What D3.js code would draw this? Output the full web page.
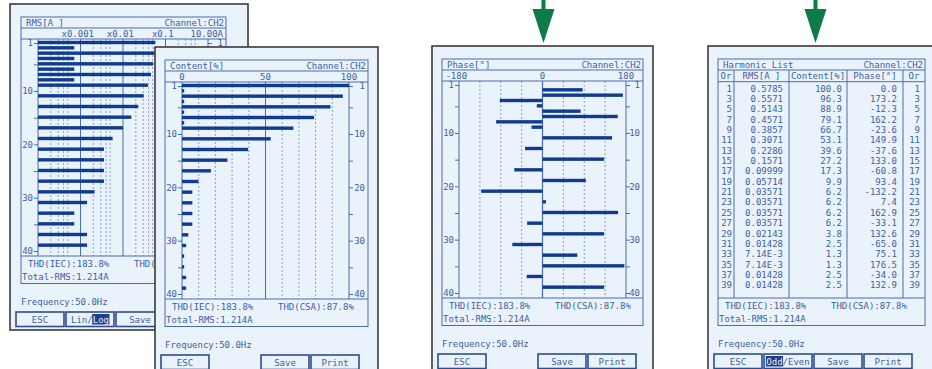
<!DOCTYPE html>
<html>
<head>
<meta charset="utf-8">
<script src="https://cdn.jsdelivr.net/npm/d3@7"></script>
<style>
  html, body { margin: 0; padding: 0; background: #ffffff; }
  svg { display: block; }
  text { font-family: "DejaVu Sans Mono", monospace; font-size: 9px; fill: #3d5ea3; }
</style>
</head>
<body>
<svg id="chart" width="932" height="369"></svg>
<script>
// ---- harmonic data, channel 2 ----
const oddOrders   = d3.range(1, 40, 2);
const rmsOdd      = [0.5785, 0.5571, 0.5143, 0.4571, 0.3857, 0.3071, 0.2286, 0.1571, 0.09999, 0.05714,
                     0.03571, 0.03571, 0.03571, 0.03571, 0.02143, 0.01428, 7.14e-3, 7.14e-3, 0.01428, 0.01428];
const contentOdd  = [100.0, 96.3, 88.9, 79.1, 66.7, 53.1, 39.6, 27.2, 17.3, 9.9,
                     6.2, 6.2, 6.2, 6.2, 3.8, 2.5, 1.3, 1.3, 2.5, 2.5];
const phaseOdd    = [0.0, 173.2, -12.3, 162.2, -23.6, 149.9, -37.6, 133.0, -60.8, 93.4,
                     -132.2, 7.4, 162.9, -33.1, 132.6, -65.0, 75.1, 176.5, -34.0, 132.9];
const evenOrders  = [2, 4, 6, 8];
const rmsEven     = [7.14e-3, 7.14e-3, 7.14e-3, 7.14e-3];
const contentEven = [1.3, 1.3, 1.3, 1.3];
const phaseEven   = [86.4, -92.1, 82.1, -100.0];

// ---- axis ticks and labels ----
const orderMajorTicks = [1, 10, 20, 30, 40];
const orderMinorTicks = [5, 15, 25, 35];
const rmsDecades      = [0.01, 0.1, 1];
const rmsDecadeLabels = ["x0.001", "x0.01", "x0.1"];
const rmsFullScale    = "10.00A";
const contentTicks    = [0, 50, 100];
const phaseTicks      = [-180, 0, 180];

// ---- screen texts ----
const channelLabel = "Channel:CH2";
const thdIec    = "THD(IEC):183.8%";
const thdCsa    = "THD(CSA):87.8%";
const totalRms  = "Total-RMS:1.214A";
const frequency = "Frequency:50.0Hz";
const tableHeaders = ["Or", "RMS[A ]", "Content[%]", "Phase[°]", "Or"];

const harmonics = oddOrders.map((o, i) => ({ order: o, rms: rmsOdd[i], content: contentOdd[i], phase: phaseOdd[i] }))
  .concat(evenOrders.map((o, i) => ({ order: o, rms: rmsEven[i], content: contentEven[i], phase: phaseEven[i] })));
const oddRows = harmonics.filter(d => d.order % 2 === 1).sort((a, b) => a.order - b.order);

// ---- palette ----
const BG = "#eaf3fb", INK = "#3d5ea3", LINE = "#4d6aad", BAR = "#0f3c8c",
      GRID = "#7489c0", FRAME = "#3a3a3a", ARROW = "#0b7b47";
const CW = 9 * 0.602; // monospace advance at 9px

const svg = d3.select("#chart");

function label(g, x, y, s, anchor) {
  return g.append("text").attr("x", x).attr("y", y).attr("text-anchor", anchor || "start").text(s);
}
function hline(g, x1, x2, y, color, width) {
  g.append("line").attr("x1", x1).attr("x2", x2).attr("y1", y).attr("y2", y)
    .attr("stroke", color || LINE).attr("stroke-width", width || 1);
}
function vline(g, x, y1, y2, color, width, dash) {
  g.append("line").attr("x1", x).attr("x2", x).attr("y1", y1).attr("y2", y2)
    .attr("stroke", color || LINE).attr("stroke-width", width || 1)
    .attr("stroke-dasharray", dash || null);
}

// One instrument screen: frame, panel, title row, footer and soft keys
function drawScreen(x0, y0, w, opt) {
  const g = svg.append("g").attr("transform", `translate(${x0},${y0})`);
  g.append("rect").attr("x", 0).attr("y", 0).attr("width", w).attr("height", 326)
    .attr("fill", BG).attr("stroke", FRAME).attr("stroke-width", 1.6);
  const pl = opt.pl, pr = opt.pl + opt.pw;
  g.append("rect").attr("x", pl).attr("y", 13).attr("width", opt.pw).attr("height", 266.5)
    .attr("fill", "none").attr("stroke", LINE).attr("stroke-width", 1);
  hline(g, pl, pr, 24);
  label(g, pl + 5, 21.8, opt.title);
  label(g, pr - 2, 21.8, channelLabel, "end");
  hline(g, pl, pr, 252);
  label(g, pl + 7, 263, thdIec);
  label(g, pl + 113, 263, thdCsa);
  label(g, pl + 1, 275.5, totalRms);
  label(g, pl, 301, frequency);

  opt.keys.forEach((k, i) => {
    if (!k) return;
    const bx = 6 + i * 50, bw = 48;
    g.append("rect").attr("x", bx).attr("y", 308).attr("width", bw).attr("height", 14.5)
      .attr("fill", BG).attr("stroke", "#2d4c92").attr("stroke-width", 1.6);
    const s = k.text, sx = bx + bw / 2 - s.length * CW / 2;
    if (k.hi) {
      g.append("rect").attr("x", sx + k.hi[0] * CW - 0.5).attr("y", 310)
        .attr("width", (k.hi[1] - k.hi[0]) * CW + 1).attr("height", 10.5).attr("fill", "#1f3f8c");
      const t = g.append("text").attr("x", sx).attr("y", 318.5);
      t.append("tspan").text(s.slice(0, k.hi[0]));
      t.append("tspan").attr("style", "fill:#e6eefa").text(s.slice(k.hi[0], k.hi[1]));
      t.append("tspan").text(s.slice(k.hi[1]));
    } else {
      label(g, bx + bw / 2, 318.5, s, "middle");
    }
  });
  return g;
}

// Bar graph area shared by the three graph screens
function drawGraphFrame(g, opt, x) {
  const pl = opt.pl, pr = opt.pl + opt.pw;
  hline(g, pl, pr, 35);
  const [xl, xr] = x.range();
  const y = d3.scaleLinear().domain([1, 40]).range([39, 247]);

  const ticks = orderMajorTicks.concat(orderMinorTicks).sort((a, b) => a - b);
  const fmt = d => orderMajorTicks.includes(d) ? String(d) : "";
  const left = g.append("g").attr("transform", `translate(${xl},0)`).style("color", LINE)
    .call(d3.axisLeft(y).tickValues(ticks).tickFormat(fmt).tickSize(4).tickPadding(1).tickSizeOuter(0));
  left.select(".domain").remove();
  const right = g.append("g").attr("transform", `translate(${xr},0)`).style("color", LINE)
    .call(d3.axisRight(y).tickValues(ticks).tickFormat(fmt).tickSize(4).tickPadding(1).tickSizeOuter(0));
  right.select(".domain").remove();
  right.selectAll("text").attr("text-anchor", "end").attr("x", pr - 3 - xr);

  vline(g, xl, 35, 252);
  vline(g, xr, 35, 252);
  return y;
}

// axis-row label whose numeric part is centred on the value
function axisLabel(g, xpos, s) {
  const digits = s.replace(/^[x\-]/, "");
  label(g, xpos + digits.length * CW / 2, 32.8, s, "end");
}

function drawBars(g, y, data, x0fn, x1fn) {
  g.append("g").selectAll("rect").data(data).join("rect")
    .attr("x", d => Math.min(x0fn(d), x1fn(d)))
    .attr("width", d => Math.abs(x1fn(d) - x0fn(d)))
    .attr("y", d => y(d.order) - 2.2)
    .attr("height", 3.4)
    .attr("fill", BAR);
}

// ---------- Screen 1: RMS, logarithmic ----------
{
  const opt = { pl: 11, pw: 205, title: "RMS[A ]",
    keys: [{ text: "ESC" }, { text: "Lin/Log", hi: [4, 7] }, { text: "Save" }] };
  const g = drawScreen(10, 4, 238, opt);
  const x = d3.scaleLog().domain([0.001, 10]).range([28, 198]);
  // decade grid
  [0.001, 0.01, 0.1, 1].forEach(dec => {
    [2, 3, 4, 5].forEach(m => vline(g, x(dec * m), 35, 252, GRID, 0.8, "2,2"));
  });
  rmsDecades.forEach(v => vline(g, x(v), 35, 252, LINE, 1));
  const y = drawGraphFrame(g, opt, x);
  rmsDecades.forEach((v, i) => axisLabel(g, x(v), rmsDecadeLabels[i]));
  label(g, opt.pl + opt.pw - 3, 32.8, rmsFullScale, "end");
  drawBars(g, y, harmonics.filter(d => d.rms > 0), () => x(0.001), d => x(d.rms));
}

// ---------- Screen 2: content [%] ----------
{
  const opt = { pl: 10, pw: 203, title: "Content[%]",
    keys: [{ text: "ESC" }, null, { text: "Save" }, { text: "Print" }] };
  const g = drawScreen(155, 47, 223, opt);
  const x = d3.scaleLinear().domain([0, 100]).range([27, 194]);
  d3.range(10, 100, 10).forEach(v => {
    if (v === 50) vline(g, x(v), 35, 252, LINE, 1);
    else vline(g, x(v), 35, 252, GRID, 0.8, "2,2");
  });
  const y = drawGraphFrame(g, opt, x);
  contentTicks.forEach(v => axisLabel(g, x(v), String(v)));
  drawBars(g, y, harmonics.filter(d => d.content > 0), () => x(0), d => x(d.content));
}

// ---------- Screen 3: phase [deg] ----------
{
  const opt = { pl: 10, pw: 201, title: "Phase[°]",
    keys: [{ text: "ESC" }, null, { text: "Save" }, { text: "Print" }] };
  const g = drawScreen(432, 46, 221, opt);
  const x = d3.scaleLinear().domain([-180, 180]).range([27, 194]);
  [-135, -90, -45, 45, 90, 135].forEach(v => vline(g, x(v), 35, 252, GRID, 0.8, "2,2"));
  vline(g, x(0), 35, 252, LINE, 1.2);
  const y = drawGraphFrame(g, opt, x);
  phaseTicks.forEach(v => axisLabel(g, x(v), String(v)));
  drawBars(g, y, harmonics.filter(d => d.phase !== 0), () => x(0), d => x(d.phase));
}

// ---------- Screen 4: harmonic list ----------
{
  const opt = { pl: 10, pw: 207, title: "Harmonic List",
    keys: [{ text: "ESC" }, { text: "Odd/Even", hi: [0, 3] }, { text: "Save" }, { text: "Print" }] };
  const g = drawScreen(708, 46, 240, opt);
  const seps = [26, 81, 139, 195];
  const edges = [opt.pl].concat(seps, [opt.pl + opt.pw]);
  hline(g, opt.pl, opt.pl + opt.pw, 35.7);
  seps.forEach(s => vline(g, s, 24, 252));
  tableHeaders.forEach((h, i) => label(g, (edges[i] + edges[i + 1]) / 2, 33, h, "middle"));

  const fmtRms = v => v >= 0.1 ? v.toFixed(4) : v >= 0.01 ? v.toFixed(5) : v.toExponential(2).toUpperCase();
  const rowY = d3.scaleLinear().domain([0, 19]).range([42.3, 239]);
  const right = [24, 75, 134, 189, 212];
  oddRows.forEach((d, i) => {
    const yy = rowY(i) + 3.3;
    label(g, right[0], yy, String(d.order), "end");
    label(g, right[1], yy, fmtRms(d.rms), "end");
    label(g, right[2], yy, d.content.toFixed(1), "end");
    label(g, right[3], yy, d.phase.toFixed(1), "end");
    label(g, right[4], yy, String(d.order), "end");
  });
}

// ---------- arrows pointing to the phase and list screens ----------
[543.5, 815.5].forEach(cx => {
  svg.append("path")
    .attr("d", `M${cx - 2},0 L${cx + 2},0 L${cx + 2},9 L${cx + 11},9 L${cx},43 L${cx - 11},9 L${cx - 2},9 Z`)
    .attr("fill", ARROW);
});
</script>
</body>
</html>
